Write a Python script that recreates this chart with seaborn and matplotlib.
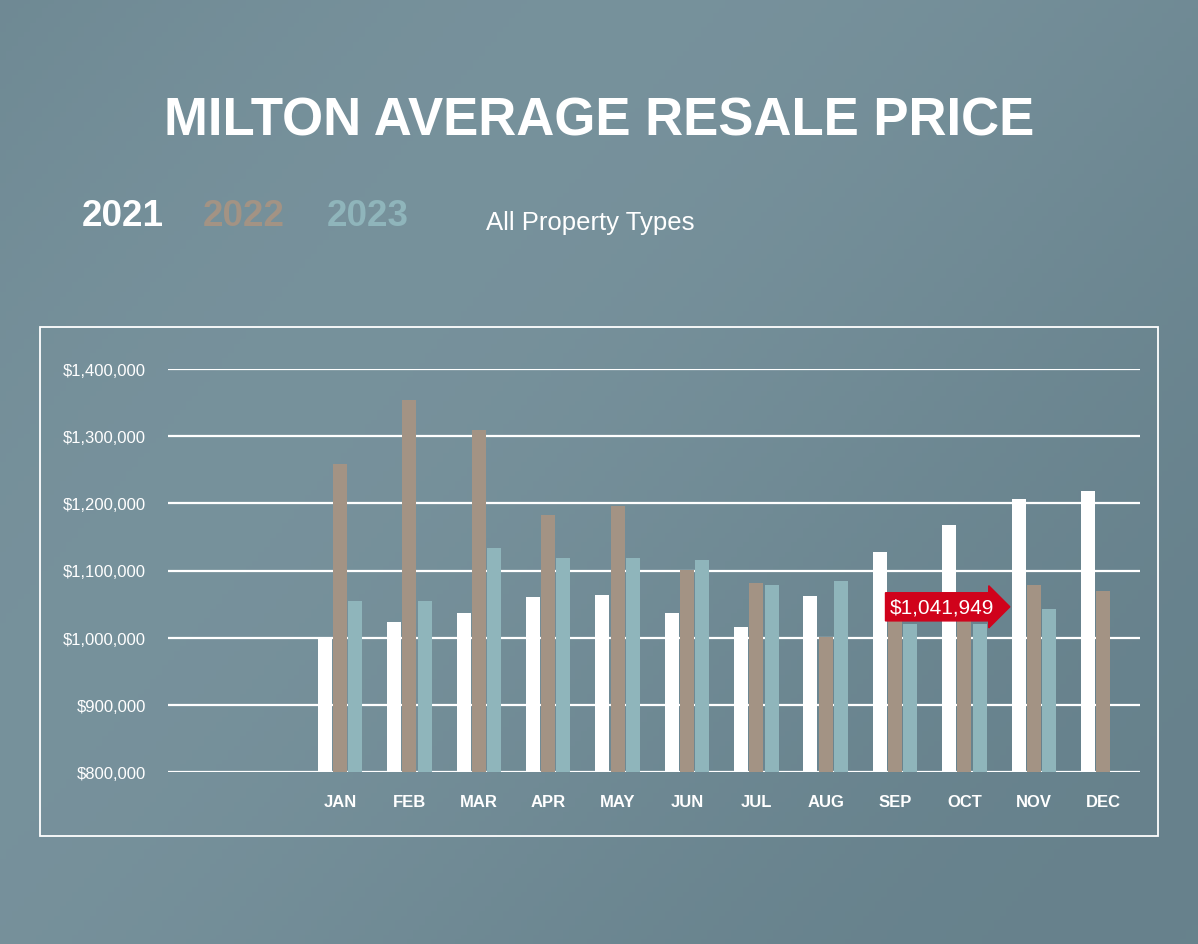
import numpy as np
import pandas as pd
import seaborn as sns
import matplotlib.pyplot as plt
from matplotlib.patches import Rectangle

months = ['JAN', 'FEB', 'MAR', 'APR', 'MAY', 'JUN', 'JUL', 'AUG', 'SEP', 'OCT', 'NOV', 'DEC']
price_2021 = [1000000, 1024000, 1037000, 1061000, 1063000, 1036000, 1016000, 1062000, 1128000, 1167000, 1206000, 1219000]
price_2022 = [1258000, 1354000, 1309000, 1182000, 1196000, 1101000, 1082000, 1001000, 1061000, 1040000, 1079000, 1069000]
price_2023 = [1055000, 1055000, 1134000, 1119000, 1118000, 1115000, 1079000, 1084000, 1020000, 1020000, 1042000, np.nan]
callout = 1041949

df = pd.DataFrame({'Month': months * 3,
                   'Year': ['2021'] * 12 + ['2022'] * 12 + ['2023'] * 12,
                   'Price': price_2021 + price_2022 + price_2023})

sns.set_style("white")
plt.rcParams['font.family'] = ['Liberation Sans', 'DejaVu Sans']
bg = '#6d8893'
colors = {'2021': '#ffffff', '2022': '#a39384', '2023': '#8fb5bb'}

fig = plt.figure(figsize=(11.98, 9.45), dpi=100, facecolor=bg)
# soft background gradient
bgax = fig.add_axes([0, 0, 1, 1], zorder=-5)
gy, gx = np.mgrid[0:1:200j, 0:1:200j]
bgax.imshow(0.5 + 0.25 * np.sin(gx * 3 + gy * 2), cmap=sns.blend_palette(['#5f7a85', '#7f99a3'], as_cmap=True),
            extent=[0, 1, 0, 1], aspect='auto', vmin=0, vmax=1)
bgax.axis('off')

ax = fig.add_axes([168 / 1198, 1 - 773 / 945, (1140 - 168) / 1198, (773 - 370) / 945])
ax.set_facecolor('none')
sns.barplot(data=df, x='Month', y='Price', hue='Year', palette=colors, width=0.66,
            gap=0.08, ax=ax, legend=False, saturation=1, zorder=3, linewidth=0)
ax.set_ylim(800000, 1400000)
ax.set_xlim(-2.48, 11.53)
ax.set_yticks(range(800000, 1400001, 100000))
ax.set_yticklabels([f'${v:,.0f}' for v in range(800000, 1400001, 100000)], color='white', fontsize=12)
ax.set_xticks(range(12))
ax.set_xticklabels(months, color='white', fontsize=12, fontweight='bold')
ax.tick_params(length=0, pad=16)
ax.yaxis.grid(True, color='white', linewidth=1.6, zorder=1)
ax.set_axisbelow(True)
for s in ax.spines.values():
    s.set_visible(False)
ax.set_xlabel('')
ax.set_ylabel('')

ax.annotate(f'${callout:,.0f}', xy=(8.68, callout + 4000), ha='center', va='center', color='white',
            fontsize=15, zorder=6,
            bbox=dict(boxstyle='rarrow,pad=0.22', fc='#d0021b', ec='#d0021b'))

fig.patches.append(Rectangle((40 / 1198, 1 - 837 / 945), 1118 / 1198, 509 / 945, transform=fig.transFigure,
                             fill=False, ec='white', lw=1.3))

fig.text(0.5, 1 - 122 / 945, 'MILTON AVERAGE RESALE PRICE', ha='center', va='center', color='white',
         fontsize=38, fontweight='bold')
fig.text(82 / 1198, 1 - 217 / 945, '2021', color='white', fontsize=26.5, fontweight='bold', va='center')
fig.text(203 / 1198, 1 - 217 / 945, '2022', color='#a39384', fontsize=26.5, fontweight='bold', va='center')
fig.text(327 / 1198, 1 - 217 / 945, '2023', color='#8fb5bb', fontsize=26.5, fontweight='bold', va='center')
fig.text(486 / 1198, 1 - 223 / 945, 'All Property Types', color='white', fontsize=18.5, va='center')

fig.savefig('out.png', dpi=100, facecolor=bg)
